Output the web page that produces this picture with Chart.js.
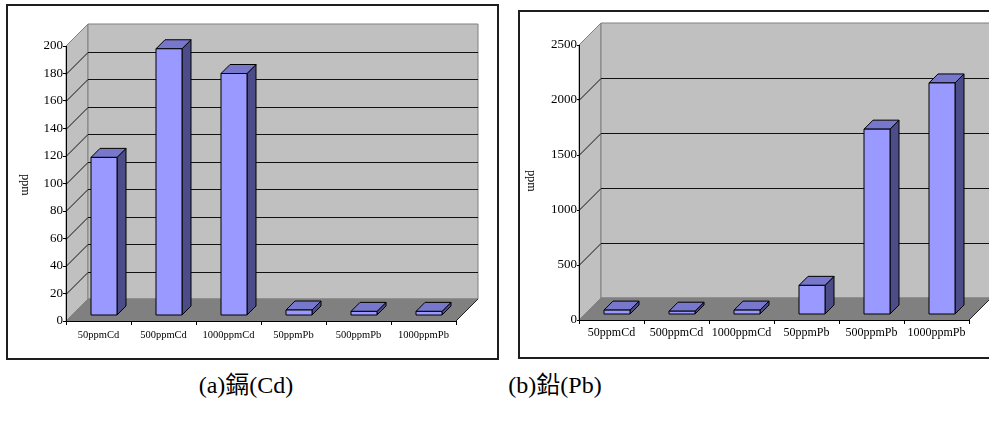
<!DOCTYPE html>
<html>
<head>
<meta charset="utf-8">
<script src="https://cdn.jsdelivr.net/npm/chart.js@4/dist/chart.umd.min.js"></script>
<style>
html, body { margin: 0; padding: 0; background: #fff; width: 989px; height: 423px; overflow: hidden; }
.frame { position: absolute; box-sizing: border-box; border: 2px solid #1e1e1e; }
.plot { position: absolute; }
.plot canvas { display: block; }
.cap { position: absolute; width: 200px; text-align: center; color: #000;
       font: 24px/24px "Liberation Serif", "Noto Sans CJK TC", serif; }
</style>
</head>
<body>
<div class="frame" style="left:6px;top:4px;width:493px;height:356px"></div>
<div class="frame" style="left:518px;top:10px;width:500px;height:349px"></div>
<div class="plot" style="left:0;top:0"><canvas id="cdChart" width="505" height="362"></canvas></div>
<div class="plot" style="left:510px;top:0"><canvas id="pbChart" width="479" height="362"></canvas></div>
<div class="cap" style="left:146px;top:373px">(a)鎘(Cd)</div>
<div class="cap" style="left:455px;top:373px">(b)鉛(Pb)</div>
<script>
// Sample groups (x axis)
const categories = ['50ppmCd', '500ppmCd', '1000ppmCd', '50ppmPb', '500ppmPb', '1000ppmPb'];
// Measured cadmium content, ppm
const cdValues = [115, 194, 176, 4, 3, 3];
// Measured lead content, ppm
const pbValues = [40, 30, 40, 265, 1685, 2105];
// Value-axis tick labels
const cdTicks = [0, 20, 40, 60, 80, 100, 120, 140, 160, 180, 200];
const pbTicks = [0, 500, 1000, 1500, 2000, 2500];
const axisTitle = 'ppm';

function poly(ctx, pts) {
  ctx.beginPath();
  ctx.moveTo(pts[0][0], pts[0][1]);
  for (let i = 1; i < pts.length; i++) ctx.lineTo(pts[i][0], pts[i][1]);
  ctx.closePath();
}

// Draws the walls, floor and bars of a 3-D column chart on top of the
// regular category / linear scales.
const box3d = {
  id: 'box3d',
  beforeDraw(chart, args, o) {
    const { ctx, chartArea: a, scales: { y } } = chart;
    const D = o.depth;
    ctx.save();
    ctx.lineWidth = 1;
    ctx.lineJoin = 'miter';
    // side wall
    ctx.fillStyle = o.wallColor;
    ctx.strokeStyle = o.edgeColor;
    poly(ctx, [[a.left, a.bottom], [a.left, a.top], [a.left + D, a.top - D], [a.left + D, a.bottom - D]]);
    ctx.fill(); ctx.stroke();
    // back wall
    poly(ctx, [[a.left + D, a.top - D], [a.right + D, a.top - D], [a.right + D, a.bottom - D], [a.left + D, a.bottom - D]]);
    ctx.fill(); ctx.stroke();
    // floor
    ctx.fillStyle = o.floorColor;
    poly(ctx, [[a.left, a.bottom], [a.right, a.bottom], [a.right + D, a.bottom - D], [a.left + D, a.bottom - D]]);
    ctx.fill(); ctx.stroke();
    ctx.strokeStyle = '#222';
    ctx.beginPath();
    ctx.moveTo(a.right, a.bottom); ctx.lineTo(a.right + D, a.bottom - D);
    ctx.stroke();
    // gridlines across side and back walls
    ctx.strokeStyle = o.gridColor;
    y.ticks.forEach(t => {
      if (t.value <= y.min || t.value >= y.max) return;
      const py = Math.round(y.getPixelForValue(t.value)) + 0.5;
      ctx.beginPath();
      ctx.moveTo(a.left, py);
      ctx.lineTo(a.left + D, py - D);
      ctx.lineTo(a.right + D, py - D);
      ctx.stroke();
    });
    ctx.restore();
  },
  afterDatasetsDraw(chart, args, o) {
    const ctx = chart.ctx;
    const meta = chart.getDatasetMeta(0);
    const d0 = o.barOffset, dd = o.barDepth;
    ctx.save();
    ctx.lineWidth = 1;
    ctx.strokeStyle = '#000';
    ctx.lineJoin = 'miter';
    meta.data.forEach(el => {
      const { x, y, base, width } = el.getProps(['x', 'y', 'base', 'width'], true);
      const x0 = x - width / 2 + d0, x1 = x + width / 2 + d0;
      const yt = y - d0, yb = base - d0;
      // right side face
      ctx.fillStyle = o.sideColor;
      poly(ctx, [[x1, yb], [x1, yt], [x1 + dd, yt - dd], [x1 + dd, yb - dd]]);
      ctx.fill(); ctx.stroke();
      // top face
      ctx.fillStyle = o.topColor;
      poly(ctx, [[x0, yt], [x1, yt], [x1 + dd, yt - dd], [x0 + dd, yt - dd]]);
      ctx.fill(); ctx.stroke();
      // front face
      ctx.fillStyle = o.frontColor;
      poly(ctx, [[x0, yb], [x0, yt], [x1, yt], [x1, yb]]);
      ctx.fill(); ctx.stroke();
    });
    // value-axis title
    ctx.font = '12px "Liberation Serif", serif';
    ctx.fillStyle = '#000';
    ctx.textAlign = 'center';
    ctx.textBaseline = 'middle';
    ctx.translate(o.titleX, o.titleY);
    ctx.rotate(o.titleAngle * Math.PI / 180);
    ctx.fillText(axisTitle, 0, 0);
    ctx.restore();
  }
};

function makeChart(id, values, ticks, cfg) {
  return new Chart(document.getElementById(id), {
    type: 'bar',
    data: {
      labels: categories,
      datasets: [{
        data: values,
        backgroundColor: 'rgba(0,0,0,0)',
        borderWidth: 0,
        barPercentage: 0.4,
        categoryPercentage: 1
      }]
    },
    options: {
      responsive: false,
      animation: false,
      events: [],
      layout: { padding: cfg.padding },
      plugins: {
        legend: { display: false },
        tooltip: { enabled: false },
        box3d: {
          depth: 22, barOffset: 5.5, barDepth: 9,
          wallColor: '#C0C0C0', floorColor: '#808080', edgeColor: '#808080', gridColor: '#111',
          frontColor: '#9999FF', topColor: '#7777CC', sideColor: '#4C4C88',
          titleX: cfg.titleX, titleY: cfg.titleY, titleAngle: cfg.titleAngle
        }
      },
      scales: {
        x: {
          grid: { display: true, drawOnChartArea: false, drawTicks: true, tickLength: 4, color: '#000', offset: true },
          border: { display: true, color: '#000', width: 1 },
          ticks: {
            font: { family: 'Liberation Serif', size: cfg.xFont },
            color: '#000', padding: cfg.xPad, maxRotation: 0, autoSkip: false
          },
          afterFit: s => { s.height = 20; }
        },
        y: {
          min: ticks[0],
          max: ticks[ticks.length - 1],
          afterBuildTicks: s => { s.ticks = ticks.map(v => ({ value: v })); },
          grid: { display: true, drawOnChartArea: false, drawTicks: true, tickLength: cfg.yTick, color: '#000' },
          border: { display: true, color: '#000', width: 1 },
          ticks: {
            font: { family: 'Liberation Serif', size: 13 },
            color: '#000', padding: 0,
            callback: v => String(v)
          },
          afterFit: s => { s.width = 30; }
        }
      }
    },
    plugins: [box3d]
  });
}

makeChart('cdChart', cdValues, cdTicks, {
  padding: { left: 36, right: 49, top: 46, bottom: 21 },
  xFont: 10.5, xPad: 3.5, yTick: 3,
  titleX: 25, titleY: 185, titleAngle: 90
});

makeChart('pbChart', pbValues, pbTicks, {
  padding: { left: 39, right: 20, top: 45, bottom: 22 },
  xFont: 12, xPad: 2, yTick: 2,
  titleX: 21, titleY: 181, titleAngle: 90
});
</script>
</body>
</html>
